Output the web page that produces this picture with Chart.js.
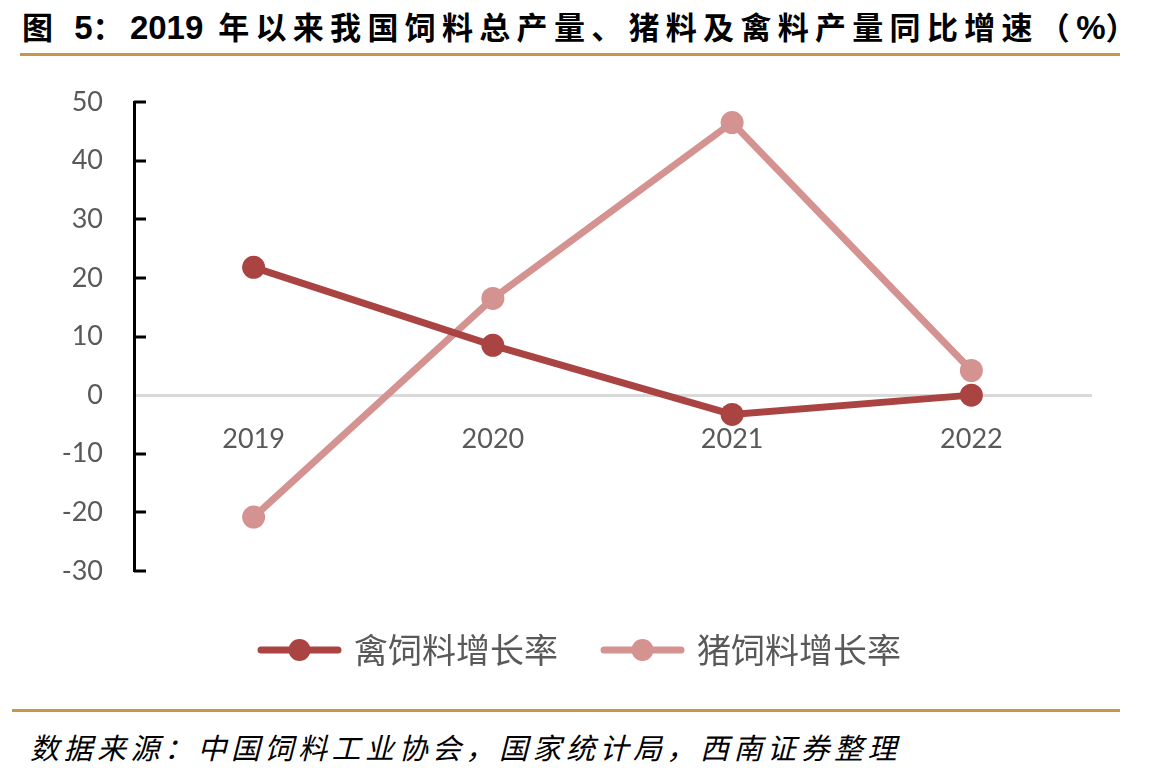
<!DOCTYPE html>
<html>
<head>
<meta charset="utf-8">
<script src="https://cdn.jsdelivr.net/npm/chart.js@4.4.1/dist/chart.umd.min.js"></script>
<style>
    body { margin: 0; background: #fff; width: 1172px; height: 780px; position: relative; overflow: hidden; }
    #title { position: absolute; left: 22px; top: 3px; font: bold 31px "Liberation Sans", "Noto Sans CJK SC", sans-serif; letter-spacing: 6.3px; color: #000; white-space: nowrap; }
    #title .lat { letter-spacing: 0; font-size: 33px; }
    .rule { position: absolute; height: 3px; background: #C8964B; }
    #source { position: absolute; left: 30px; top: 725px; font: italic 29px "Noto Sans CJK SC", sans-serif; letter-spacing: 4.5px; color: #000; white-space: nowrap; }
    #wrap { position: absolute; left: 0; top: 60px; width: 1172px; height: 640px; }
    #wrap canvas { display: block; }
</style>
</head>
<body>
<div id="title">图 <span class="lat">5</span>：<span class="lat">2019</span> 年以来我国饲料总产量、猪料及禽料产量同比增速（<span class="lat">%</span>）</div>
<div class="rule" style="left:20px; top:53px; width:1100px;"></div>
<div id="wrap"><canvas id="chart"></canvas></div>
<div class="rule" style="left:12px; top:709px; width:1108px;"></div>
<div id="source">数据来源：中国饲料工业协会，国家统计局，西南证券整理</div>

<script>
const years = ["2019", "2020", "2021", "2022"];
const poultryGrowth = [21.8, 8.5, -3.3, 0.0];
const pigGrowth = [-20.8, 16.5, 46.5, 4.2];
const seriesNames = ["禽饲料增长率", "猪饲料增长率"];
const seriesColors = ["#A94442", "#D49391"];

// legend marker: short thick line with a dot in the middle
function makeMarker(color) {
    const c = document.createElement("canvas");
    c.width = 85;
    c.height = 26;
    const ctx = c.getContext("2d");
    ctx.strokeStyle = color;
    ctx.lineWidth = 7;
    ctx.lineCap = "round";
    ctx.beginPath();
    ctx.moveTo(4, 13);
    ctx.lineTo(81, 13);
    ctx.stroke();
    ctx.fillStyle = color;
    ctx.beginPath();
    ctx.arc(42.5, 13, 11, 0, Math.PI * 2);
    ctx.fill();
    return c;
}
const markers = seriesColors.map(makeMarker);

// tick marks on the y axis point into the plot
const innerTicks = {
    id: "innerTicks",
    afterDraw(chart) {
        const y = chart.scales.y;
        const ctx = chart.ctx;
        const left = chart.chartArea.left;
        ctx.save();
        ctx.strokeStyle = "#000";
        ctx.lineWidth = 3;
        y.ticks.forEach(t => {
            if (t.value === 0) return;
            const py = Math.round(y.getPixelForValue(t.value));
            ctx.beginPath();
            ctx.moveTo(left, py);
            ctx.lineTo(left + 12, py);
            ctx.stroke();
        });
        ctx.restore();
    }
};

const emptyAxis = {
    grid: { display: false, drawTicks: false },
    border: { display: false },
    ticks: { display: false },
};

new Chart(document.getElementById("chart"), {
    type: "line",
    data: {
        labels: years,
        datasets: [
            {
                label: seriesNames[0],
                data: poultryGrowth,
                borderColor: seriesColors[0],
                backgroundColor: seriesColors[0],
                borderWidth: 7,
                pointRadius: 11.5,
                pointHoverRadius: 11.5,
                pointBorderWidth: 0,
                tension: 0,
            },
            {
                label: seriesNames[1],
                data: pigGrowth,
                borderColor: seriesColors[1],
                backgroundColor: seriesColors[1],
                borderWidth: 7,
                pointRadius: 11.5,
                pointHoverRadius: 11.5,
                pointBorderWidth: 0,
                tension: 0,
            },
        ],
    },
    options: {
        responsive: true,
        maintainAspectRatio: false,
        animation: false,
        layout: {
            padding: { top: 42, left: 60, right: 69, bottom: 23 },
        },
        scales: {
            x: {
                position: { y: 0 },
                offset: true,
                grid: { display: false, drawTicks: false },
                border: { display: true, color: "#D9D9D9", width: 3 },
                ticks: {
                    padding: 28,
                    color: "#595959",
                    font: { family: "Lato", size: 27 },
                },
            },
            // spacer between plot and legend
            gapBottom: {
                ...emptyAxis,
                type: "category",
                axis: "x",
                position: "bottom",
                afterFit: s => { s.height = 15; },
            },
            // spacer on the right so the legend sits where it does in the original
            gapRight: {
                ...emptyAxis,
                type: "linear",
                axis: "y",
                position: "right",
                afterFit: s => { s.width = 12; },
            },
            y: {
                min: -30,
                max: 50,
                // invisible outer ticks give the label gap without padding the plot top
                grid: { display: true, drawOnChartArea: false, drawTicks: true, tickLength: 31, color: "rgba(0,0,0,0)" },
                border: { display: true, color: "#000", width: 3 },
                ticks: {
                    stepSize: 10,
                    padding: 0,
                    color: "#595959",
                    font: { family: "Lato", size: 27 },
                },
                afterFit: s => { s.width = 74; },
            },
        },
        plugins: {
            legend: {
                position: "bottom",
                labels: {
                    usePointStyle: true,
                    pointStyleWidth: 75,
                    padding: 47,
                    color: "#595959",
                    font: { family: "Noto Sans CJK SC", size: 34 },
                    generateLabels: chart =>
                        Chart.defaults.plugins.legend.labels.generateLabels(chart).map((item, i) => {
                            item.pointStyle = markers[i];
                            return item;
                        }),
                },
            },
            tooltip: { enabled: false },
        },
    },
    plugins: [innerTicks],
});
</script>
</body>
</html>
